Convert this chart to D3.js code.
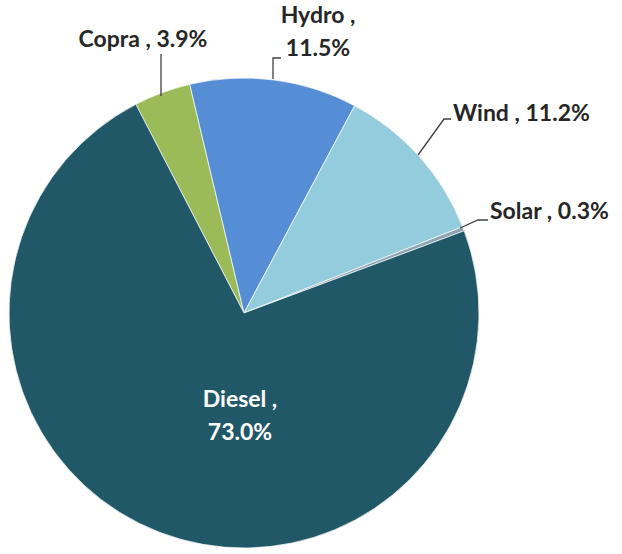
<!DOCTYPE html>
<html>
<head>
<script src="https://d3js.org/d3.v7.min.js"></script>
<style>
  body { margin: 0; background: #fff; }
  text { font-family: Lato, "Open Sans", sans-serif; font-weight: bold; }
</style>
</head>
<body>
<div id="chart"></div>
<script>
var sources = ["Copra", "Hydro", "Wind", "Solar", "Diesel"];
var shares = [3.9, 11.5, 11.2, 0.3, 73.0];
var colours = ["#9bbb59", "#558ed5", "#93cddd", "#8ea4b0", "#215868"];

var w = 622, h = 554;
var cx = 244, cy = 313, r = 235;

var svg = d3.select("#chart").append("svg")
    .attr("width", w).attr("height", h);

var start = -27.4 * Math.PI / 180;
var pie = d3.pie().sort(null)
    .startAngle(start).endAngle(start + 2 * Math.PI)
    .value(function(d) { return d; });
var arc = d3.arc().innerRadius(0).outerRadius(r);

var slices = pie(shares);
var color = d3.scaleOrdinal().domain(sources).range(colours);

var g = svg.append("g").attr("transform", "translate(" + cx + "," + cy + ")");
g.selectAll("path")
    .data(slices)
    .enter().append("path")
    .attr("d", arc)
    .attr("fill", function(d, i) { return color(sources[i]); })
    .attr("stroke", "#fff")
    .attr("stroke-width", 0.7);

// label layout: leader points (page coords) and text lines
var labels = [
    { lines: [sources[0] + " , " + shares[0].toFixed(1) + "%"], x: 143, y: 47, anchor: "middle",
      leader: [[161, 96], [161, 54]] },
    { lines: [sources[1] + " ,", shares[1].toFixed(1) + "%"], x: 318, y: 23, anchor: "middle",
      leader: [[273, 79], [273, 58], [281, 58]] },
    { lines: [sources[2] + " , " + shares[2].toFixed(1) + "%"], x: 453, y: 121, anchor: "start",
      leader: [[418, 155], [444, 119], [451, 119]] },
    { lines: [sources[3] + " , " + shares[3].toFixed(1) + "%"], x: 490, y: 219, anchor: "start",
      leader: [[460, 228], [478, 220], [488, 220]] },
    { lines: [sources[4] + " ,", shares[4].toFixed(1) + "%"], x: 240, y: 407, anchor: "middle",
      leader: null, fill: "#fff" }
];

var line = d3.line();
labels.forEach(function(l) {
    if (l.leader) {
        svg.append("path").attr("d", line(l.leader))
            .attr("fill", "none").attr("stroke", "#404040").attr("stroke-width", 1.3);
    }
    var t = svg.append("text")
        .attr("x", l.x).attr("y", l.y)
        .attr("text-anchor", l.anchor)
        .attr("font-size", 23)
        .attr("fill", l.fill || "#262626");
    l.lines.forEach(function(s, i) {
        t.append("tspan").attr("x", l.x).attr("dy", i ? 33 : 0).text(s);
    });
});
</script>
</body>
</html>
